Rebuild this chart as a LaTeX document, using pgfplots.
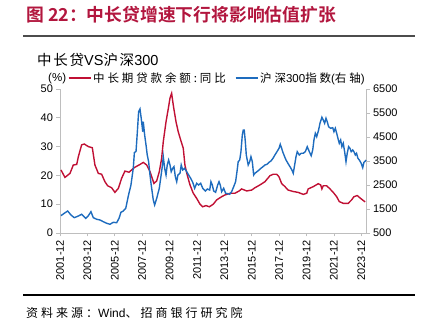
\documentclass[border=0pt]{standalone}
\usepackage{pgfplots}
\pgfplotsset{compat=1.18}
\usepackage{fontspec}
\setmainfont{Liberation Sans}
\newfontfamily\cjk{Noto Sans CJK SC}
\newfontfamily\cjkb{Noto Sans CJK SC Bold}
\newfontfamily\cjkl[LetterSpace=25]{Noto Sans CJK SC}
\newfontfamily\cjkm[LetterSpace=12]{Noto Sans CJK SC}
\definecolor{cred}{RGB}{192,16,52}
\definecolor{cblue}{RGB}{30,108,190}
\definecolor{ctitle}{RGB}{178,22,62}
\definecolor{caxis}{RGB}{190,190,190}

\pgfplotstableread{
x y
2001.99 21.9
2002.28 19.3
2002.65 20.7
2002.89 23.6
2003.14 23.8
2003.26 26.5
2003.50 30.6
2003.69 30.9
2003.99 30.0
2004.28 29.6
2004.47 23.6
2004.72 20.7
2004.96 20.4
2005.20 17.8
2005.40 16.4
2005.69 15.7
2005.93 14.1
2006.18 15.5
2006.42 19.0
2006.66 21.5
2006.96 21.1
2007.34 22.7
2007.76 23.8
2008.00 24.5
2008.25 23.6
2008.49 21.3
2008.78 17.2
2008.98 18.1
2009.17 21.3
2009.34 25.9
2009.46 31.7
2009.66 38.6
2009.83 43.3
2009.95 46.8
2010.07 48.5
2010.19 44.4
2010.39 38.6
2010.55 35.2
2010.73 32.3
2010.92 29.4
2011.04 23.6
2011.21 20.1
2011.41 16.7
2011.65 13.8
2011.90 12.0
2012.14 10.0
2012.33 9.1
2012.58 9.5
2012.82 9.1
2013.11 10.0
2013.36 11.5
2013.72 12.6
2013.96 13.2
2014.33 13.8
2014.69 13.8
2015.00 14.6
2015.18 15.3
2015.55 14.6
2015.91 14.9
2016.15 15.7
2016.52 16.7
2016.88 17.8
2017.25 19.9
2017.49 20.4
2017.74 20.4
2017.91 19.5
2018.10 17.2
2018.34 16.1
2018.58 14.9
2018.95 14.4
2019.31 14.1
2019.68 13.4
2019.93 13.8
2020.04 15.3
2020.41 16.1
2020.77 17.1
2020.95 16.7
2021.04 15.3
2021.14 16.4
2021.39 16.4
2021.63 15.3
2021.87 14.1
2022.12 12.6
2022.31 10.9
2022.60 10.3
2022.96 10.3
2023.21 11.5
2023.38 12.6
2023.62 13.0
2023.87 12.0
2024.11 11.1
2024.20 10.8
}\loantable

\pgfplotstableread{
x y
2001.99 1221
2002.23 1321
2002.48 1417
2002.72 1250
2002.96 1138
2003.26 1208
2003.50 1279
2003.80 1113
2003.99 1221
2004.18 1388
2004.35 1138
2004.60 1071
2004.84 1042
2005.08 971
2005.33 904
2005.57 863
2005.81 946
2006.06 929
2006.23 1113
2006.37 1363
2006.54 1417
2006.72 1529
2006.91 2050
2007.10 2500
2007.27 3200
2007.35 3850
2007.47 3900
2007.56 4650
2007.66 5554
2007.76 5667
2007.85 5279
2007.96 4721
2008.00 5138
2008.10 4583
2008.20 4167
2008.29 3750
2008.39 3471
2008.49 2917
2008.58 2500
2008.73 1875
2008.83 1667
2008.98 1946
2009.17 2363
2009.27 2779
2009.37 3196
2009.46 3679
2009.56 3196
2009.66 2917
2009.75 3333
2009.85 3542
2009.95 3333
2010.04 3054
2010.15 3196
2010.24 3263
2010.34 2846
2010.44 2638
2010.53 2917
2010.68 2988
2010.77 3333
2010.88 3125
2011.02 3196
2011.17 3054
2011.31 2917
2011.46 2779
2011.61 2613
2011.75 2363
2011.90 2571
2012.04 2500
2012.19 2571
2012.34 2363
2012.53 2250
2012.67 2333
2012.85 2292
2012.94 2638
2013.04 2500
2013.14 2250
2013.28 2196
2013.43 2500
2013.53 2638
2013.62 2500
2013.72 2221
2013.87 2363
2014.01 2154
2014.16 2138
2014.31 2113
2014.45 2221
2014.60 2429
2014.74 2638
2014.84 3054
2014.93 3471
2015.04 3542
2015.13 3888
2015.23 4583
2015.30 4792
2015.37 4792
2015.45 4304
2015.52 3750
2015.59 3542
2015.66 3333
2015.77 3471
2015.86 3679
2015.96 3471
2016.06 2917
2016.15 2988
2016.30 3054
2016.45 3125
2016.59 3196
2016.74 3263
2016.88 3333
2017.03 3363
2017.18 3446
2017.32 3500
2017.47 3613
2017.61 3750
2017.76 3888
2017.91 4029
2018.00 4196
2018.10 4029
2018.20 3850
2018.27 3750
2018.42 3542
2018.56 3404
2018.71 3263
2018.85 3125
2018.95 2988
2019.05 3333
2019.15 3679
2019.24 3888
2019.39 3750
2019.53 3821
2019.68 3821
2019.83 3888
2019.97 4096
2020.12 3888
2020.26 3721
2020.37 3958
2020.46 4375
2020.56 4654
2020.66 4513
2020.80 4792
2020.90 5071
2021.04 5321
2021.14 5208
2021.24 5071
2021.34 5279
2021.43 5138
2021.53 4929
2021.68 4863
2021.83 4888
2021.92 4721
2022.02 4863
2022.12 4654
2022.21 4446
2022.31 4238
2022.41 4375
2022.50 4096
2022.60 4238
2022.70 3888
2022.80 3471
2022.89 3821
2022.99 4096
2023.09 4029
2023.18 3888
2023.29 3958
2023.38 3888
2023.48 3750
2023.57 3821
2023.67 3613
2023.77 3542
2023.91 3404
2024.02 3221
2024.11 3446
2024.21 3500
2024.26 3540
}\csitable

\begin{document}
\begin{tikzpicture}
\path[use as bounding box] (0pt,0pt) rectangle (424pt,336pt);
% title and rules
\node[anchor=west, inner sep=0, text=ctitle] at (26pt,321pt) {\fontsize{17.8}{19}\cjkb 图 22：中长贷增速下行将影响估值扩张};
\draw[line width=1.6pt, black!70] (23pt,300pt) -- (415pt,300pt);
\node[anchor=west, inner sep=0] at (37pt,276pt) {\fontsize{14.5}{16}\selectfont{\cjkm 中长贷}VS{\cjkm 沪深}300};
\node[anchor=west, inner sep=0] at (48pt,257pt) {\fontsize{11.5}{13}\selectfont (\%)};
\draw[line width=1.2pt, black] (23pt,41pt) -- (415pt,41pt);
\node[anchor=west, inner sep=0] at (26pt,23pt) {\fontsize{12}{14}\selectfont{\cjkl 资料来源：}Wind{\cjkl 、招商银行研究院}};

\pgfplotsset{
  base/.style={
    scale only axis, width=306pt, height=144pt,
    at={(60pt,103pt)}, anchor=south west,
    xmin=2001.92, xmax=2024.26,
    tick label style={font=\fontsize{11}{12}\selectfont},
    /pgf/number format/assume math mode=true,
    /pgf/number format/1000 sep={},
    axis line style={caxis, line width=0.8pt},
    tick style={caxis, line width=0.8pt},
    tick align=outside,
    major tick length=3.5pt,
    clip=false,
  }
}
\begin{axis}[base,
  axis x line*=bottom, axis y line*=left,
  ymin=0, ymax=50, ytick={0,10,20,30,40,50},
  xtick={2001.92,2003.92,2005.92,2007.92,2009.92,2011.92,2013.92,2015.92,2017.92,2019.92,2021.92,2023.92},
  xticklabels={2001-12,2003-12,2005-12,2007-12,2009-12,2011-12,2013-12,2015-12,2017-12,2019-12,2021-12,2023-12},
  xticklabel style={rotate=90, anchor=east},
]
\addplot[cred, line width=1.4pt] table[x=x,y=y] {\loantable};
\end{axis}
\begin{axis}[base,
  axis x line=none, axis y line*=right,
  ymin=500, ymax=6500, ytick={500,1500,...,6500},
  legend columns=2,
  legend image code/.code={\draw[#1] (0pt,0pt) -- (22pt,0pt);},
  legend style={at={(0.025,1.076)}, anchor=west, draw=none, fill=none,
    font=\fontsize{11.5}{13}\selectfont, inner sep=0pt,
    /tikz/every even column/.append style={column sep=7pt},
    /tikz/every odd column/.append style={column sep=0pt}},
]
\addlegendimage{cred, line width=1.4pt}
\addlegendentry{{\cjkl 中长期贷款余额:同比}}
\addplot[cblue, line width=1.4pt] table[x=x,y=y] {\csitable};
\addlegendentry{{\cjkl 沪深}300{\cjkl 指数}({\cjkl 右轴})}
\end{axis}
\end{tikzpicture}
\end{document}
